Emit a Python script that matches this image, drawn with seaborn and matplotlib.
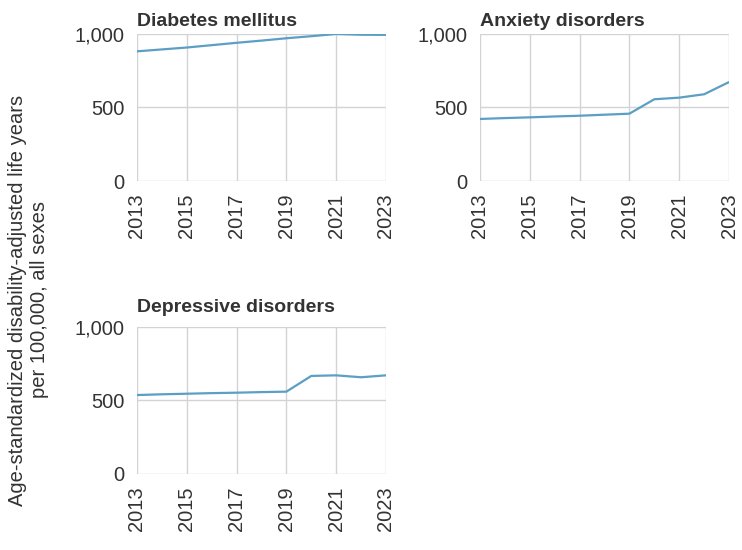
import matplotlib.pyplot as plt
import matplotlib.ticker as mticker
import pandas as pd
import seaborn as sns

years = [2013, 2014, 2015, 2016, 2017, 2018, 2019, 2020, 2021, 2022, 2023]
diabetes = [882, 895, 908, 924, 940, 955, 971, 985, 1000, 995, 994]
anxiety = [422, 428, 433, 439, 444, 451, 458, 556, 567, 590, 673]
depressive = [537, 542, 546, 550, 553, 557, 560, 667, 671, 658, 671]
panel_titles = ["Diabetes mellitus", "Anxiety disorders", "Depressive disorders"]

sns.set_style("white")
plt.rcParams['font.family'] = ['Liberation Sans', 'DejaVu Sans']

df = pd.DataFrame({
    'year': years * 3,
    'value': diabetes + anxiety + depressive,
    'cause': [panel_titles[0]] * len(years) + [panel_titles[1]] * len(years) + [panel_titles[2]] * len(years),
})

fig = plt.figure(figsize=(7.42, 5.5), dpi=100)
boxes = [
    [0.1846, 0.6709, 0.3356, 0.2673],
    [0.6469, 0.6709, 0.3356, 0.2673],
    [0.1846, 0.1382, 0.3356, 0.2673],
]
title_pads = [6, 6, 10.5]

grid_col = '#d3d3d3'
line_col = '#5b9fc5'
text_col = '#333333'

for box, title, tpad in zip(boxes, panel_titles, title_pads):
    ax = fig.add_axes(box)
    sub = df[df['cause'] == title]
    sns.lineplot(data=sub, x='year', y='value', ax=ax, color=line_col, linewidth=1.6)
    ax.set_xlim(2013, 2023)
    ax.set_ylim(0, 1000)
    ax.set_xticks(range(2013, 2024, 2))
    ax.set_yticks([0, 500, 1000])
    ax.yaxis.set_major_formatter(mticker.FuncFormatter(lambda v, p: f'{int(v):,}'))
    ax.grid(True, color=grid_col, linewidth=1.0)
    ax.set_axisbelow(True)
    for s in ax.spines.values():
        s.set_visible(False)
    ax.tick_params(axis='both', length=6, width=1.0, color=grid_col,
                   labelsize=14.5, labelcolor=text_col, pad=3)
    ax.tick_params(axis='x', labelrotation=90)
    ax.set_xlabel('')
    ax.set_ylabel('')
    ax.set_title(title, loc='left', fontsize=14, fontweight='bold', color=text_col, pad=tpad)

fig.text(0.038, 1 - 300 / 550,
         'Age-standardized disability-adjusted life years\nper 100,000, all sexes',
         rotation=90, ha='center', va='center', multialignment='center',
         fontsize=14.5, color=text_col, linespacing=1.2)

fig.savefig('out.png', dpi=100)
